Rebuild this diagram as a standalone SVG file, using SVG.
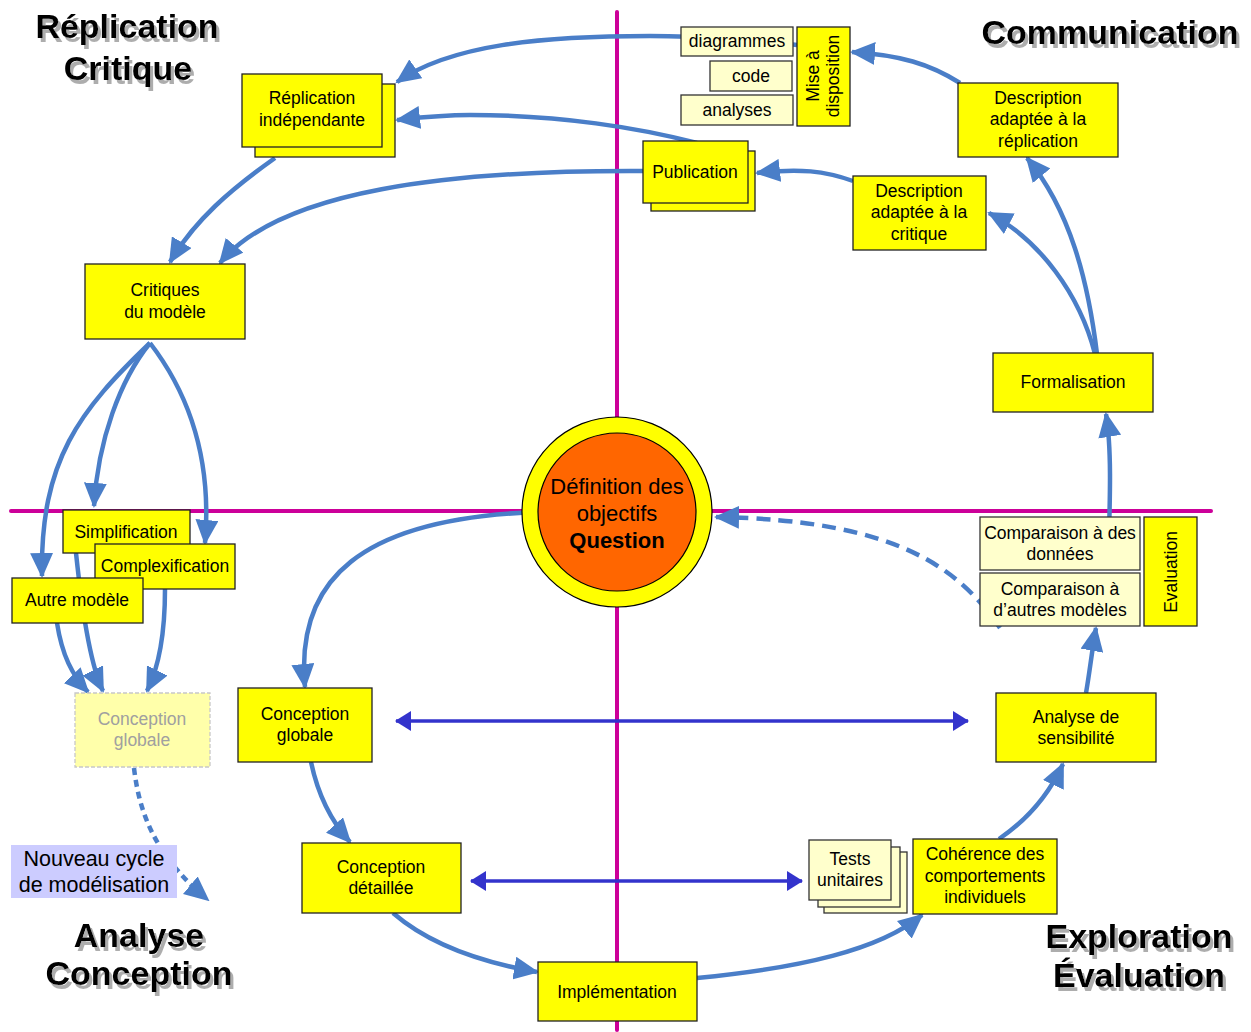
<svg xmlns="http://www.w3.org/2000/svg" width="1251" height="1032" viewBox="0 0 1251 1032">
<style>
text{font-family:"Liberation Sans",Arial,sans-serif;fill:#000}
.n{font-size:17.5px;text-anchor:middle}
.box{fill:#FFFF00;stroke:#222;stroke-width:1.3}
.lbox{fill:#FFFFCC;stroke:#333;stroke-width:1.3}
.t{font-size:34px;font-weight:bold;text-anchor:middle;filter:url(#shadow)}
.c{fill:none;stroke:#4A7EC8;stroke-width:4.5;marker-end:url(#ah)}
.p{fill:none;stroke:#3333CC;stroke-width:3.5;marker-start:url(#ph);marker-end:url(#ph)}
.ax{stroke:#CC0099;stroke-width:4;stroke-linecap:round}
</style>
<defs>
<filter id="shadow" x="-10%" y="-20%" width="130%" height="150%">
<feFlood flood-color="#ADADAD" result="f"/>
<feComposite in="f" in2="SourceAlpha" operator="in" result="s"/>
<feOffset in="s" dx="3" dy="4" result="o"/>
<feMerge><feMergeNode in="o"/><feMergeNode in="SourceGraphic"/></feMerge>
</filter>
<marker id="ah" markerUnits="userSpaceOnUse" markerWidth="25" markerHeight="23" refX="23" refY="11.5" orient="auto"><path d="M0,0 L25,11.5 L0,23 z" fill="#4A7EC8"/></marker>
<marker id="ph" markerUnits="userSpaceOnUse" markerWidth="16" markerHeight="20" refX="15" refY="10" orient="auto-start-reverse"><path d="M0,0 L16,10 L0,20 z" fill="#3333CC"/></marker>
</defs>
<rect width="1251" height="1032" fill="#fff"/>
<g id="titles">
<text class="t" x="127" y="38">Réplication</text>
<text class="t" x="128" y="80">Critique</text>
<text class="t" x="1110" y="44">Communication</text>
<text class="t" x="139" y="947">Analyse</text>
<text class="t" x="139" y="985">Conception</text>
<text class="t" x="1139" y="948">Exploration</text>
<text class="t" x="1139" y="987">Évaluation</text>
</g>
<g id="axes">
<line class="ax" x1="617" y1="12" x2="617" y2="1030"/>
<line class="ax" x1="11" y1="511" x2="1211" y2="511"/>
</g>
<g id="connectors">
<path class="c" d="M797,45 C760,40 700,36 650,36 C540,36 450,45 397,82"/>
<path class="c" d="M697,143 C640,128 560,115 470,115 C440,115 415,118 397,120"/>
<path class="c" d="M643,171 C450,170 280,190 220,263"/>
<path class="c" d="M275,158 C230,190 195,220 170,262"/>
<path class="c" d="M960,83 C930,64 900,55 852,52"/>
<path class="c" d="M853,181 C825,171 800,168 757,173"/>
<path class="c" d="M1097,354 C1088,280 1070,210 1027,158"/>
<path class="c" d="M1095,354 C1080,295 1040,240 989,213"/>
<path class="c" d="M1108,570 C1110,500 1112,450 1106,414"/>
<path class="c" d="M1086,693 C1090,670 1092,650 1096,628"/>
<path class="c" d="M999,839 C1030,818 1050,792 1063,764"/>
<path class="c" d="M697,978 C800,968 880,950 922,915"/>
<path class="c" d="M393,913 C430,945 485,963 537,972"/>
<path class="c" d="M311,762 C318,795 330,820 350,842"/>
<path class="c" d="M538,512 C360,518 295,580 305,687"/>
<path class="c" d="M1000,628 C960,570 900,520 716,517" stroke-width="3" stroke-dasharray="14,8"/>
<path class="c" d="M150,343 C120,380 98,440 94,506"/>
<path class="c" d="M150,343 C190,395 212,460 205,543"/>
<path class="c" d="M150,343 C80,410 40,460 42,576"/>
<path class="c" d="M57,623 C62,655 72,675 88,692"/>
<path class="c" d="M76,553 C82,610 90,665 103,691"/>
<path class="c" d="M165,589 C165,630 160,665 147,691"/>
<path class="c" d="M134,768 C140,820 160,860 208,900" stroke-dasharray="7,5"/>
<path class="p" d="M396,721 L968,721"/>
<path class="p" d="M471,881 L802,881"/>
</g>
<g id="n-replication">
<rect class="box" x="255" y="84" width="140" height="73"/>
<rect class="box" x="242" y="74" width="140" height="73"/>
<text class="n" x="312" y="104">Réplication</text><text class="n" x="312" y="126">indépendante</text>
</g>
<g id="n-critiques">
<rect class="box" x="85" y="264" width="160" height="75"/>
<text class="n" x="165" y="296">Critiques</text><text class="n" x="165" y="318">du modèle</text>
</g>
<g id="n-diagrammes"><rect class="lbox" x="681" y="27" width="112" height="29"/><text class="n" x="737" y="47">diagrammes</text></g>
<g id="n-code"><rect class="lbox" x="710" y="61" width="82" height="30"/><text class="n" x="751" y="82">code</text></g>
<g id="n-analyses"><rect class="lbox" x="681" y="95" width="112" height="30"/><text class="n" x="737" y="116">analyses</text></g>
<g id="n-mise">
<rect class="box" x="797" y="27" width="53" height="99"/>
<g transform="translate(823,76) rotate(-90)"><text class="n" x="0" y="-4">Mise à</text><text class="n" x="0" y="16">disposition</text></g>
</g>
<g id="n-desc-replication">
<rect class="box" x="958" y="83" width="160" height="74"/>
<text class="n" x="1038" y="104">Description</text><text class="n" x="1038" y="125">adaptée à la</text><text class="n" x="1038" y="147">réplication</text>
</g>
<g id="n-publication">
<rect class="box" x="651" y="151" width="104" height="60"/>
<rect class="box" x="643" y="141" width="105" height="62"/>
<text class="n" x="695" y="178">Publication</text>
</g>
<g id="n-desc-critique">
<rect class="box" x="853" y="176" width="133" height="74"/>
<text class="n" x="919" y="197">Description</text><text class="n" x="919" y="218">adaptée à la</text><text class="n" x="919" y="240">critique</text>
</g>
<g id="n-formalisation">
<rect class="box" x="993" y="353" width="160" height="59"/>
<text class="n" x="1073" y="388">Formalisation</text>
</g>
<g id="n-comp-donnees">
<rect class="lbox" x="980" y="517" width="160" height="53"/>
<text class="n" x="1060" y="539">Comparaison à des</text><text class="n" x="1060" y="560">données</text>
</g>
<g id="n-comp-modeles">
<rect class="lbox" x="980" y="573" width="160" height="53"/>
<text class="n" x="1060" y="595">Comparaison à</text><text class="n" x="1060" y="616">d’autres modèles</text>
</g>
<g id="n-evaluation">
<rect class="box" x="1144" y="517" width="53" height="109"/>
<text class="n" transform="translate(1177,572) rotate(-90)" x="0" y="0">Evaluation</text>
</g>
<g id="n-analyse-sensibilite">
<rect class="box" x="996" y="693" width="160" height="69"/>
<text class="n" x="1076" y="723">Analyse de</text><text class="n" x="1076" y="744">sensibilité</text>
</g>
<g id="n-coherence">
<rect class="box" x="913" y="839" width="144" height="75"/>
<text class="n" x="985" y="860">Cohérence des</text><text class="n" x="985" y="882">comportements</text><text class="n" x="985" y="903">individuels</text>
</g>
<g id="n-tests">
<rect class="lbox" x="824" y="852" width="83" height="61"/>
<rect class="lbox" x="818" y="847" width="82" height="60"/>
<rect class="lbox" x="809" y="840" width="82" height="60"/>
<text class="n" x="850" y="865">Tests</text><text class="n" x="850" y="886">unitaires</text>
</g>
<g id="n-implementation">
<rect class="box" x="538" y="962" width="159" height="59"/>
<text class="n" x="617" y="998">Implémentation</text>
</g>
<g id="n-conception-detaillee">
<rect class="box" x="302" y="843" width="159" height="70"/>
<text class="n" x="381" y="873">Conception</text><text class="n" x="381" y="894">détaillée</text>
</g>
<g id="n-conception-globale">
<rect class="box" x="238" y="688" width="134" height="74"/>
<text class="n" x="305" y="720">Conception</text><text class="n" x="305" y="741">globale</text>
</g>
<g id="n-conception-globale-ghost">
<rect x="75" y="693" width="135" height="74" fill="#FFFFAA" stroke="#C8C8C8" stroke-width="1.3" stroke-dasharray="4,2"/>
<text class="n" x="142" y="725" style="fill:#A0A0A0">Conception</text><text class="n" x="142" y="746" style="fill:#A0A0A0">globale</text>
</g>
<g id="n-simplification">
<rect class="box" x="63" y="510" width="127" height="43"/>
<text class="n" x="126" y="538">Simplification</text>
</g>
<g id="n-complexification">
<rect class="box" x="95" y="544" width="140" height="45"/>
<text class="n" x="165" y="572">Complexification</text>
</g>
<g id="n-autre">
<rect class="box" x="12" y="578" width="131" height="45"/>
<text class="n" x="77" y="606">Autre modèle</text>
</g>
<g id="n-nouveau-cycle">
<rect x="11" y="845" width="166" height="53" fill="#CCCCFF"/>
<text class="n" x="94" y="866" style="font-size:21.5px">Nouveau cycle</text><text class="n" x="94" y="892" style="font-size:21.5px">de modélisation</text>
</g>
<g id="n-question">
<circle cx="617" cy="512" r="95" fill="#FFFF00" stroke="#000" stroke-width="1.2"/>
<circle cx="617" cy="512" r="79" fill="#FF6600" stroke="#000" stroke-width="1.2"/>
<text class="n" x="617" y="494" style="font-size:22px">Définition des</text>
<text class="n" x="617" y="521" style="font-size:22px">objectifs</text>
<text class="n" x="617" y="548" style="font-size:22px;font-weight:bold">Question</text>
</g>
</svg>
